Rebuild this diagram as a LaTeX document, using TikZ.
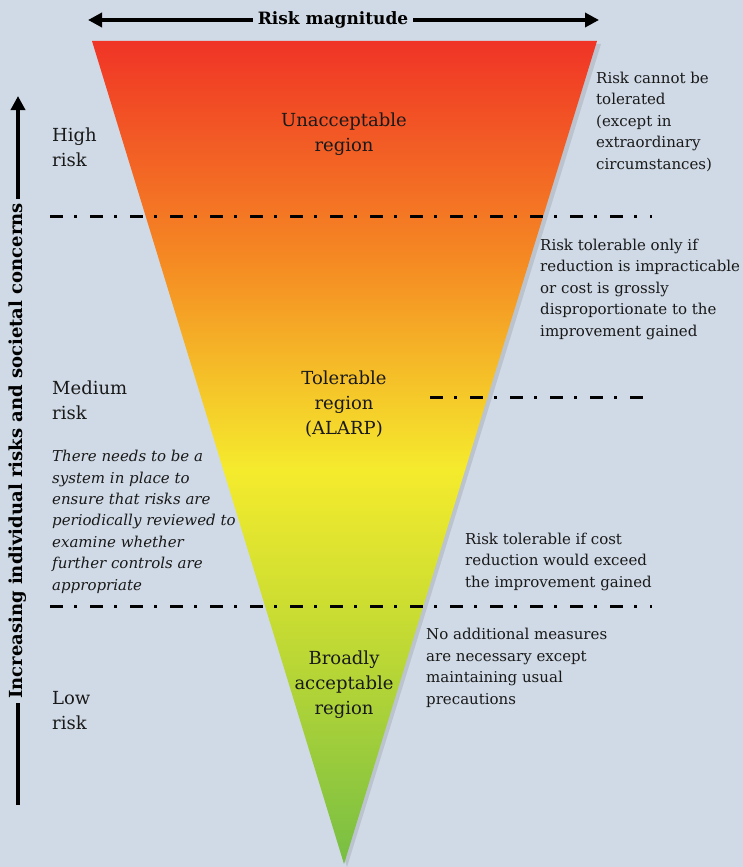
\documentclass[tikz,border=0pt]{standalone}
\usepackage{fontspec}
\setmainfont{DejaVu Serif}
\usetikzlibrary{arrows.meta,positioning}
\definecolor{bgblue}{RGB}{208,218,230}
\definecolor{riskred}{RGB}{240,52,38}
\definecolor{riskorange}{RGB}{245,140,35}
\definecolor{riskyellow}{RGB}{245,235,45}
\definecolor{risklime}{RGB}{200,220,50}
\definecolor{riskgreen}{RGB}{118,190,68}

\begin{document}
\begin{tikzpicture}[x=1pt, y=-1pt, >={Triangle[length=14pt,width=14pt]},
    note/.style={anchor=base west, align=left, inner sep=0pt, text=black!90,
                 font=\fontsize{15}{21.4}\selectfont},
    level/.style={note, font=\fontsize{18}{25}\selectfont},
    region/.style={anchor=base, align=center, inner sep=0pt, text=black!90,
                   font=\fontsize{18}{25}\selectfont},
    boundary/.style={line width=3pt, dash pattern=on 13pt off 11pt on 3pt off 13pt},
    axis/.style={line width=3.5pt}]
    \fill[bgblue] (0,0) rectangle (743,867);
    \useasboundingbox (0,0) rectangle (743,867);

    % the triangle
    \coordinate (TL) at (92,41);
    \coordinate (TR) at (597,41);
    \coordinate (apex) at (344,864);
    \fill[black, opacity=0.1] (95,44) -- (601,44) -- (347,867) -- cycle;
    \begin{scope}
        \clip (TL) -- (TR) -- (apex) -- cycle;
        \shade[top color=riskred, bottom color=riskorange]    (80,41)  rectangle (610,266);
        \shade[top color=riskorange, bottom color=riskyellow] (80,265) rectangle (610,470);
        \shade[top color=riskyellow, bottom color=risklime]   (80,469) rectangle (610,620);
        \shade[top color=risklime, bottom color=riskgreen]    (80,619) rectangle (610,867);
    \end{scope}

    % axes
    \node[font=\bfseries\fontsize{17}{21}\selectfont, inner xsep=5pt] (mag) at (333,20) {Risk magnitude};
    \coordinate (magL) at (88,20);
    \coordinate (magR) at (599,20);
    \draw[axis, <-] (magL) -- (mag.west);
    \draw[axis, ->] (mag.east) -- (magR);

    \node[font=\bfseries\fontsize{18}{22}\selectfont, rotate=90, inner xsep=4pt] (conc) at (18,451)
        {Increasing individual risks and societal concerns};
    \coordinate (concB) at (18,805);
    \coordinate (concT) at (18,96);
    \draw[axis] (concB) -- (conc.west);
    \draw[axis, ->] (conc.east) -- (concT);

    % boundaries
    \coordinate (b1L) at (50,216);  \coordinate (b1R) at (652,216);
    \coordinate (b2L) at (430,397); \coordinate (b2R) at (645,397);
    \coordinate (b3L) at (50,606);  \coordinate (b3R) at (652,606);
    \draw[boundary] (b1L) -- (b1R);
    \draw[boundary] (b2L) -- (b2R);
    \draw[boundary] (b3L) -- (b3R);

    % regions (base = last line)
    \node[region] (unacc) at (344,151) {Unacceptable\\region};
    \node[region] (toler) at (344,434) {Tolerable\\region\\(ALARP)};
    \node[region] (broad) at (344,714) {Broadly\\acceptable\\region};

    % levels
    \node[level] (high) at (52,166) {High\\risk};
    \node[level] (med)  at (52,419) {Medium\\risk};
    \node[note, font=\itshape\fontsize{15}{21.4}\selectfont] (review) at (52,590)
        {There needs to be a\\system in place to\\ensure that risks are\\periodically reviewed to\\examine whether\\further controls are\\appropriate};
    \node[level] (low)  at (52,729) {Low\\risk};

    % explanations
    \node[note] (cannot) at (596,169)
        {Risk cannot be\\tolerated\\(except in\\extraordinary\\circumstances)};
    \node[note] (only) at (540,336)
        {Risk tolerable only if\\reduction is impracticable\\or cost is grossly\\disproportionate to the\\improvement gained};
    \node[note] (costif) at (465,587)
        {Risk tolerable if cost\\reduction would exceed\\the improvement gained};
    \node[note] (noadd) at (426,704)
        {No additional measures\\are necessary except\\maintaining usual\\precautions};
\end{tikzpicture}
\end{document}
